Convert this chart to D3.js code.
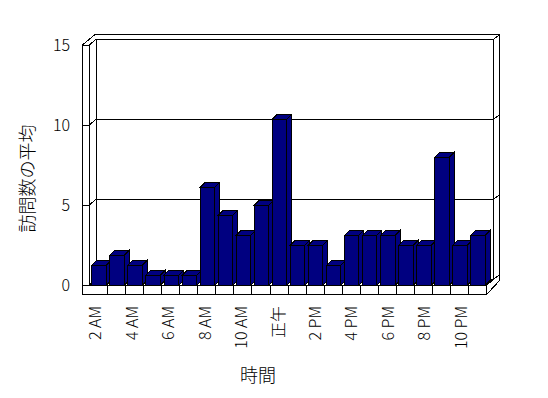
<!DOCTYPE html>
<html>
<head>
<meta charset="utf-8">
<script src="https://cdn.jsdelivr.net/npm/d3@7"></script>
<style>
  html, body { margin: 0; padding: 0; background: #fff; }
  svg { display: block; }
  text { font-family: "Noto Sans CJK JP", "DejaVu Sans", sans-serif; fill: #000; font-weight: 300; }
</style>
</head>
<body>
<svg id="chart" width="548" height="398"></svg>
<script>
// ---- data ----
const categories = ["2 AM","3 AM","4 AM","5 AM","6 AM","7 AM","8 AM","9 AM","10 AM","11 AM","正午",
                    "1 PM","2 PM","3 PM","4 PM","5 PM","6 PM","7 PM","8 PM","9 PM","10 PM","11 PM"];
const values = [1.25, 1.875, 1.25, 0.625, 0.625, 0.625, 6.125, 4.375, 3.125, 5, 10.375,
                2.5, 2.5, 1.25, 3.125, 3.125, 3.125, 2.5, 2.5, 8, 2.5, 3.125];
const yTicks = [0, 5, 10, 15];
const yTitle = "訪問数の平均";
const xTitle = "時間";

// ---- layout ----
const svg = d3.select("#chart");
const wallOuterX = 82, wallInnerX = 89;
const floorBottom = 294.5;
const D = [7, -6];        // depth to back wall inner face
const D2 = [13, -10.8];   // depth incl. back wall thickness
const barD = [5, -5];

const y = d3.scaleLinear().domain([0, 15]).range([285.3, 45.3]);
const x = d3.scaleBand().domain(categories).range([89.5, 486.6]).padding(0);
const xl = d3.scaleBand().domain(categories).range([86, 488.6]).padding(0);

const frontRight = x.range()[1];
const backLeft = wallInnerX + D[0];
const backRight = frontRight + D[0];
const y0 = y(0);

const g = svg.append("g").attr("fill", "none").attr("stroke", "#000").attr("stroke-width", 1)
  .attr("shape-rendering", "crispEdges");

// outer outline
g.append("path")
  .attr("fill", "#fff")
  .attr("d", `M${wallOuterX},${floorBottom} V${y(15)} L${wallOuterX + D2[0]},${y(15) + D2[1]} H${backRight + 6} V${y0 + D2[1] + 6} L${frontRight},${floorBottom} Z`);

// inner edges
g.append("path").attr("d", `M${wallInnerX},${y0} V${y(15)}`);
g.append("path").attr("d", `M${backLeft},${y(15) + D[1]} V${y0 + D[1]}`);
g.append("path").attr("d", `M${backRight},${y(15) + D[1]} V${y0 + D[1]}`);
g.append("path").attr("d", `M${wallInnerX},${y0} H${frontRight} L${backRight},${y0 + D[1]}`);
g.append("path").attr("d", `M${frontRight},${y0} V${floorBottom}`);

// gridlines + ticks
yTicks.forEach(t => {
  const fy = y(t), by = fy + D[1];
  g.append("path").attr("d", `M${wallOuterX},${fy} H${wallInnerX} L${backLeft},${by} H${backRight} L${backRight + 6},${by - 4.8}`);
});

// floor front dividers
categories.slice(1).forEach(c => {
  const xb = x(c);
  g.append("path").attr("d", `M${xb},${y0} V${floorBottom}`);
});

// y tick labels
svg.append("g").selectAll("text").data(yTicks).join("text")
  .attr("x", 70).attr("y", d => y(d)).attr("dy", "0.36em")
  .attr("text-anchor", "end").attr("font-size", 16)
  .text(d => d);

// bars
const bw = x.bandwidth() * 0.8;
const bars = svg.append("g").attr("stroke", "#000").attr("stroke-width", 1).attr("fill", "#000080")
  .attr("shape-rendering", "crispEdges");
categories.forEach((c, i) => {
  const x0 = x(c) + 2.3, top = y(values[i]), base = y0;
  const bg = bars.append("g");
  bg.append("path").attr("d", `M${x0 + bw},${top} L${x0 + bw + barD[0]},${top + barD[1]} V${base + barD[1]} L${x0 + bw},${base} Z`);
  bg.append("path").attr("d", `M${x0},${top} L${x0 + barD[0]},${top + barD[1]} H${x0 + bw + barD[0]} L${x0 + bw},${top} Z`);
  bg.append("rect").attr("x", x0).attr("y", top).attr("width", bw).attr("height", base - top);
});

// x tick labels (every other)
svg.append("g").selectAll("text").data(categories.filter((c, i) => i % 2 === 0)).join("text")
  .attr("transform", d => `translate(${xl(d) + xl.bandwidth() / 2},306) rotate(-90)`)
  .attr("dy", "0.36em").attr("text-anchor", "end").attr("font-size", 16)
  .text(d => d);

// axis titles
svg.append("text").attr("transform", "translate(28,178.5) rotate(-90)")
  .attr("text-anchor", "middle").attr("dy", "0.36em").attr("font-size", 18).text(yTitle);
svg.append("text").attr("x", 258).attr("y", 375.3)
  .attr("text-anchor", "middle").attr("dy", "0.36em").attr("font-size", 18).text(xTitle);
</script>
</body>
</html>
